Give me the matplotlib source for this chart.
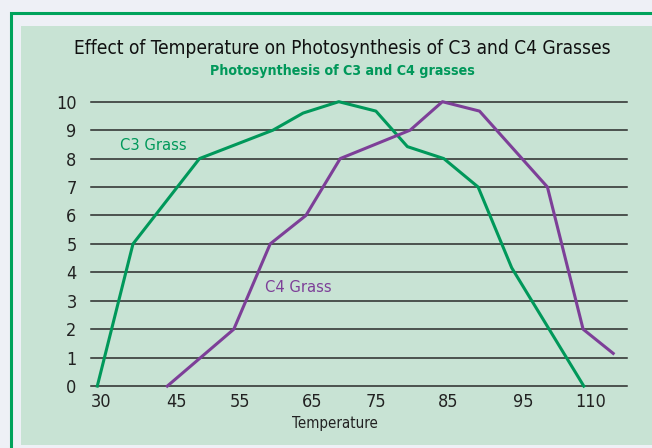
import matplotlib
matplotlib.use("Agg")
import matplotlib.pyplot as plt
from matplotlib.patches import Rectangle

# data (x in plotted temperature position)
c3_temp = [29.9, 35, 44.5, 55, 59.3, 64.4, 69.7, 74.2, 79.4, 84.3, 89.1, 99.4]
c3_rate = [0, 5, 8, 9, 9.6, 10, 9.67, 8.42, 8, 7, 4.16, 0]
c4_temp = [39.9, 49.4, 54.6, 59.7, 64.6, 74.6, 79.2, 84.5, 94.2, 99.3, 103.6]
c4_rate = [0, 2, 5, 6, 8, 9, 10, 9.67, 7, 2, 1.15]

tick_pos = [30.4, 41.2, 50.3, 60.6, 69.7, 80, 90.7, 100.4]
tick_lbl = ["30", "45", "55", "65", "75", "85", "95", "110"]
y_ticks = list(range(0, 11))

green = "#00985a"
purple = "#7d3f98"
font = dict(family="DejaVu Sans", stretch="condensed")

W, H = 652, 448
fig = plt.figure(figsize=(W / 100, H / 100), dpi=100)
fig.patch.set_facecolor("#eef0f6")

# border and panel behind the axes
fig.add_artist(Rectangle((11 / W, -0.05), 700 / W, 1.05 - 13 / H,
                         transform=fig.transFigure, fill=False, ec="#00a35c", lw=2.2, zorder=-2))
fig.add_artist(Rectangle((21 / W, 1 - 445 / H), (W - 21) / W, (445 - 26) / H,
                         transform=fig.transFigure, fc="#c8e3d4", ec="none", zorder=-1))

ax = fig.add_axes([90.5 / W, 1 - 386.1 / H, (627 - 90.5) / W, (386.1 - 101.7) / H])
ax.set_facecolor("none")
ax.set_xlim(28.93, 105.57)
ax.set_ylim(0, 10)
for s in ax.spines.values():
    s.set_visible(False)
for yv in y_ticks:
    ax.axhline(yv, color="#2a2a2a", lw=1.1, clip_on=False, zorder=1)

ax.plot(c3_temp, c3_rate, color=green, lw=2.2, clip_on=False, zorder=3)
ax.plot(c4_temp, c4_rate, color=purple, lw=2.2, clip_on=False, zorder=3)

ax.set_yticks(y_ticks)
ax.set_yticklabels([str(v) for v in y_ticks], fontsize=13, color="#222222", **font)
ax.set_xticks(tick_pos)
ax.set_xticklabels(tick_lbl, fontsize=13, color="#222222", **font)
ax.tick_params(length=0, pad=5)
ax.tick_params(axis="y", pad=10)
ax.set_xlabel("Temperature", fontsize=10.8, color="#222222", labelpad=4, **font)
ax.xaxis.set_label_coords(0.456, -0.105)

ax.text(33.1, 8.47, "C3 Grass", color=green, fontsize=11.8, va="center", **font)
ax.text(53.9, 3.48, "C4 Grass", color=purple, fontsize=11.8, va="center", **font)

fig.text(342 / W, 1 - 48 / H, "Effect of Temperature on Photosynthesis of C3 and C4 Grasses",
         ha="center", va="center", fontsize=13.7, color="#111111", **font)
fig.text(342 / W, 1 - 71 / H, "Photosynthesis of C3 and C4 grasses",
         ha="center", va="center", fontsize=10.2, fontweight="bold", color=green, **font)

fig.savefig("out.png", dpi=100)
